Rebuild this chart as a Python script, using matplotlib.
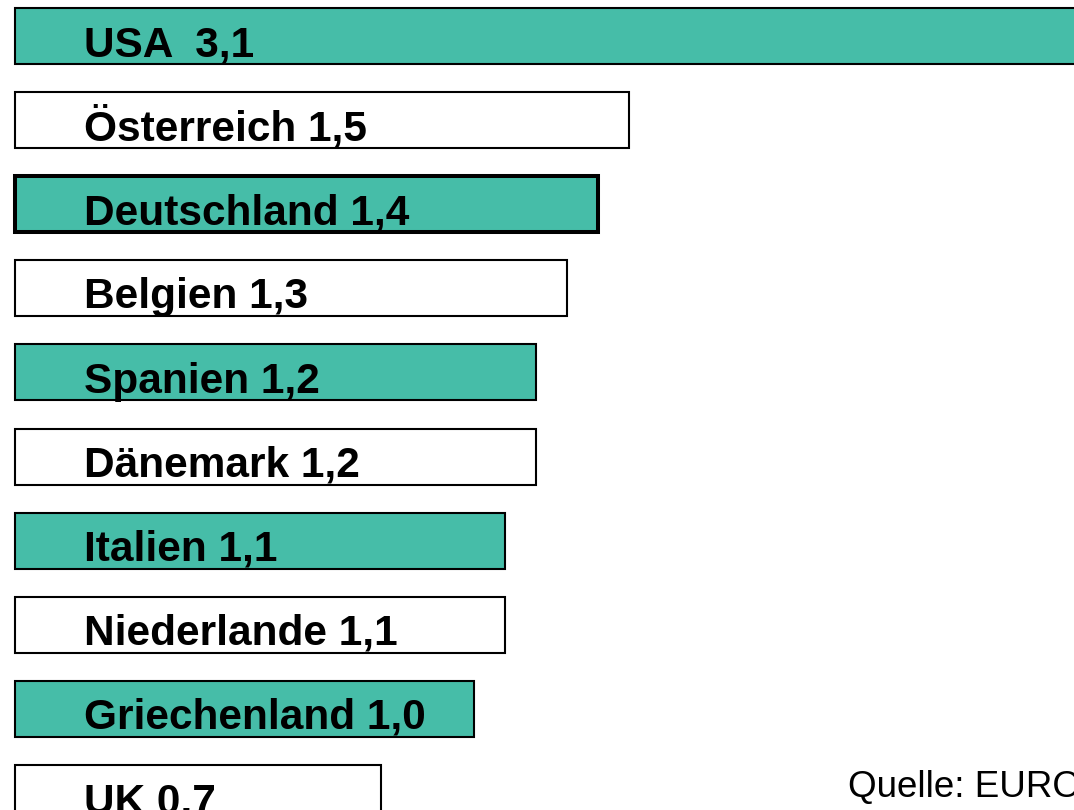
import matplotlib.pyplot as plt
import numpy as np

# data
countries = ["USA ", "Österreich", "Deutschland", "Belgien", "Spanien",
             "Dänemark", "Italien", "Niederlande", "Griechenland", "UK"]
values = [3.1, 1.5, 1.4, 1.3, 1.2, 1.2, 1.1, 1.1, 1.0, 0.7]
filled = [True, False, True, False, True, False, True, False, True, False]
source = "Quelle: EUROSTAT"

plt.rcParams['font.family'] = ['Liberation Sans', 'DejaVu Sans']

teal = '#46bda8'
base = -0.48  # bars start left of zero, like the original slide

fig = plt.figure(figsize=(10.74, 8.10), dpi=100)
ax = fig.add_axes([0, 0, 1, 1])

y = np.arange(len(values))
for i, (name, val, fill) in enumerate(zip(countries, values, filled)):
    lw = 2.9 if name == "Deutschland" else 1.5
    ax.barh(y[i], val - base, left=base, height=0.666,
            color=teal if fill else 'white', edgecolor='black', linewidth=lw)
    label = f"{name} {val:.1f}".replace('.', ',')
    ax.annotate(label, xy=(base, y[i]), xytext=(49, -14.5),
                textcoords='offset points', ha='left', va='baseline',
                fontsize=30.5, fontweight='bold', color='black')

ax.set_xlim(-0.530, 2.935)
ax.set_ylim(9.203, -0.428)
ax.axis('off')

fig.text(848 / 1074, 1 - 797 / 810, source, fontsize=26.5, ha='left',
         va='baseline', color='black')

plt.savefig("out.png", dpi=100)
